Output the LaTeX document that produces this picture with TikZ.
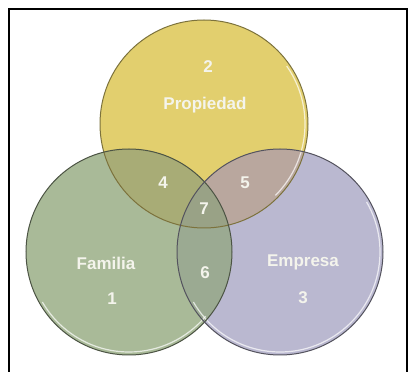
\documentclass[tikz,border=0pt]{standalone}
\usepackage{fontspec}
\setmainfont{Liberation Sans}
\usepackage{tikz}

\definecolor{yel}{HTML}{E2CF6E}
\definecolor{grn}{HTML}{A9BA98}
\definecolor{pur}{HTML}{BAB8D0}
\definecolor{ovFour}{HTML}{A8AC76}
\definecolor{ovFive}{HTML}{B9A79E}
\definecolor{ovSix}{HTML}{9BAA92}
\definecolor{ovSeven}{HTML}{99A286}
\definecolor{txt}{HTML}{F4F4EC}

\begin{document}
\begin{tikzpicture}[x=1pt,y=1pt,
    lbl/.style={text=txt,font=\bfseries\fontsize{17}{20}\selectfont,inner sep=0pt}]
    \useasboundingbox (0,0) rectangle (408,372);
    \fill[white] (0,0) rectangle (408,372);
    \draw[line width=1.8pt] (9,-2) -- (9,363) -- (407,363) -- (407,-2);

    \coordinate (Y) at (204,248);
    \coordinate (G) at (129,120);
    \coordinate (P) at (280,120);

    % circles
    \fill[yel] (Y) circle (104);
    \fill[grn] (G) circle (103);
    \fill[pur] (P) circle (103);

    % overlaps
    \begin{scope}
        \clip (G) circle (103);
        \fill[ovSix] (P) circle (103);
    \end{scope}
    \begin{scope}
        \clip (Y) circle (104);
        \fill[ovFour] (G) circle (103);
        \fill[ovFive] (P) circle (103);
        \clip (G) circle (103);
        \fill[ovSeven] (P) circle (103);
    \end{scope}

    % edges
    \draw[white,opacity=.7,line width=1.2pt] (Y) ++(-45:101) arc (-45:35:101);
    \draw[white,opacity=.7,line width=1.2pt] (G) ++(-150:100) arc (-150:-40:100);
    \draw[white,opacity=.7,line width=1.2pt] (P) ++(-150:100) arc (-150:30:100);
    \draw[yel!55!black,line width=1pt] (Y) circle (104);
    \draw[grn!45!black,line width=1pt] (G) circle (103);
    \draw[pur!45!black,line width=1pt] (P) circle (103);

    \node[lbl] (two) at (208,305) {2};
    \node[lbl] (propiedad) at (205,267) {Propiedad};
    \node[lbl] (four) at (163,189) {4};
    \node[lbl] (five) at (245,189) {5};
    \node[lbl] (seven) at (204,163) {7};
    \node[lbl] (six) at (205,99) {6};
    \node[lbl] (familia) at (106,109) {Familia};
    \node[lbl] (one) at (112,73) {1};
    \node[lbl] (empresa) at (303,110) {Empresa};
    \node[lbl] (three) at (303,74) {3};
\end{tikzpicture}
\end{document}
